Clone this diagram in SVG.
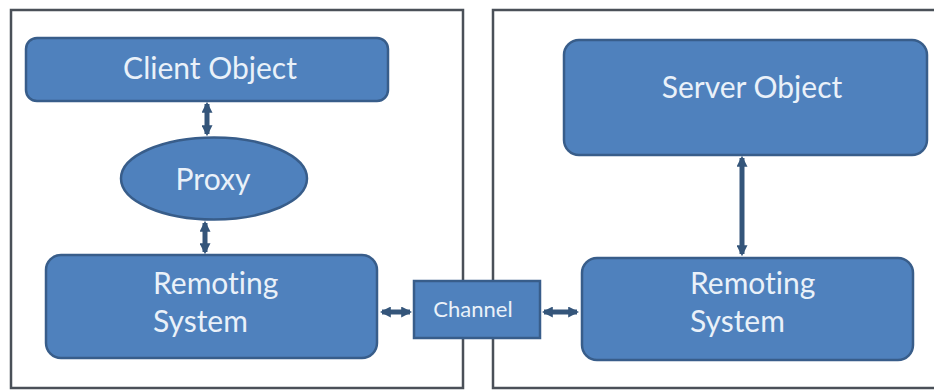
<svg xmlns="http://www.w3.org/2000/svg" width="934" height="390" viewBox="0 0 934 390">
<style>
.frame{fill:none;stroke:#4a5058;stroke-width:2.5}
.box{fill:#4f81bd;stroke:#385d8a;stroke-width:2.5}
.t{font-family:Lato,"Open Sans",sans-serif;fill:#eaf1f9;font-size:30px;font-variant-ligatures:none}
.tc{font-family:Lato,"Open Sans",sans-serif;fill:#eaf1f9;font-size:22px;font-variant-ligatures:none}
.c{stroke:#34557a;stroke-width:5;fill:none;marker-start:url(#a);marker-end:url(#a)}
</style>
<defs>
<marker id="a" viewBox="0 0 10 10" refX="8" refY="5" markerWidth="2.2" markerHeight="2.2" orient="auto-start-reverse" markerUnits="strokeWidth">
<path d="M0,0 L10,5 L0,10 Z" fill="#34557a"/>
</marker>
</defs>
<rect width="934" height="390" fill="#ffffff"/>
<g id="client-side"><rect class="frame" x="11" y="10" width="452" height="378"/></g>
<g id="server-side"><rect class="frame" x="493" y="10" width="445" height="378"/></g>
<g id="connectors">
<line class="c" x1="207" y1="104" x2="207" y2="134"/>
<line class="c" x1="205" y1="223" x2="205" y2="252"/>
<line class="c" x1="742" y1="158" x2="742" y2="254"/>
<line class="c" x1="382" y1="312" x2="410" y2="312"/>
<line class="c" x1="544" y1="312" x2="577" y2="312"/>
</g>
<g id="client-object"><rect class="box" x="26" y="38" width="362" height="63" rx="11"/><text class="t" x="210" y="79" text-anchor="middle">Client Object</text></g>
<g id="proxy"><ellipse class="box" cx="214" cy="178.5" rx="93" ry="41"/><text class="t" x="213" y="190" text-anchor="middle">Proxy</text></g>
<g id="remoting-client"><rect class="box" x="46" y="255" width="331" height="103" rx="15"/><text class="t" x="153" y="294">Remoting</text><text class="t" x="153" y="332">System</text></g>
<g id="channel"><rect class="box" x="414" y="281" width="126" height="57"/><text class="tc" x="473" y="317" text-anchor="middle">Channel</text></g>
<g id="server-object"><rect class="box" x="564" y="40" width="363" height="115" rx="15"/><text class="t" x="752" y="98" text-anchor="middle">Server Object</text></g>
<g id="remoting-server"><rect class="box" x="582" y="258" width="331" height="102" rx="15"/><text class="t" x="690" y="294">Remoting</text><text class="t" x="690" y="332">System</text></g>
</svg>
